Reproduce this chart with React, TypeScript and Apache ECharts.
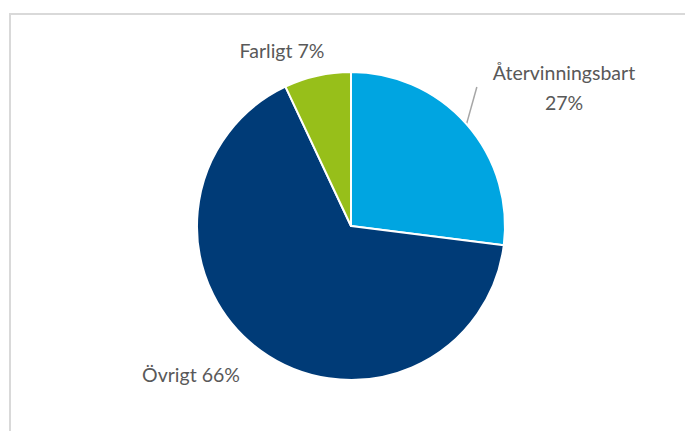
import React, { useEffect, useRef } from "react";
import * as echarts from "echarts";

const categories = ["Återvinningsbart", "Övrigt", "Farligt"];
const values = [27, 66, 7];
const colors = ["#00A5E1", "#003B77", "#97BF1A"];

const labelPos: Record<number, { x: number; y: number }> = {
  0: { x: 556, y: 87 },
  1: { x: 191, y: 374 },
  2: { x: 282, y: 50 },
};

export default function App() {
  const ref = useRef<HTMLDivElement>(null);
  useEffect(() => {
    if (!ref.current) return;
    const chart = echarts.init(ref.current, undefined, { renderer: "svg" });
    chart.setOption({
      animation: false,
      backgroundColor: "#ffffff",
      graphic: [
        { type: "line", shape: { x1: 9, y1: 14, x2: 685, y2: 14 }, style: { stroke: "#d9d9d9", lineWidth: 2 } },
        { type: "line", shape: { x1: 10, y1: 14, x2: 10, y2: 431 }, style: { stroke: "#d9d9d9", lineWidth: 2 } },
      ],
      series: [
        {
          type: "pie",
          center: [351, 226],
          radius: 154,
          startAngle: 90,
          clockwise: true,
          itemStyle: { borderColor: "#ffffff", borderWidth: 2 },
          label: {
            show: true,
            color: "#595959",
            fontFamily: "Lato",
            fontSize: 19.5,
            lineHeight: 30,
            align: "center",
            formatter: (p: any) =>
              p.dataIndex === 0 ? `${p.name}\n${p.value}%` : `${p.name} ${p.value}%`,
          },
          labelLine: { show: false, length: 0, length2: 0, lineStyle: { color: "#a6a6a6", width: 1.5 } },
          labelLayout: (p: any) => {
            const pos = labelPos[p.dataIndex];
            return { x: pos.x, y: pos.y, align: "center", verticalAlign: "middle" };
          },
          data: categories.map((name, i) => ({
            name,
            value: values[i],
            itemStyle: { color: colors[i] },
            labelLine: { show: i === 0 },
            label: i === 0 ? { padding: [0, 0, 0, 16] } : {},
          })),
        },
      ],
    });
    return () => chart.dispose();
  }, []);
  return <div ref={ref} style={{ position: "fixed", left: 0, top: 0, width: 685, height: 431 }} />;
}
